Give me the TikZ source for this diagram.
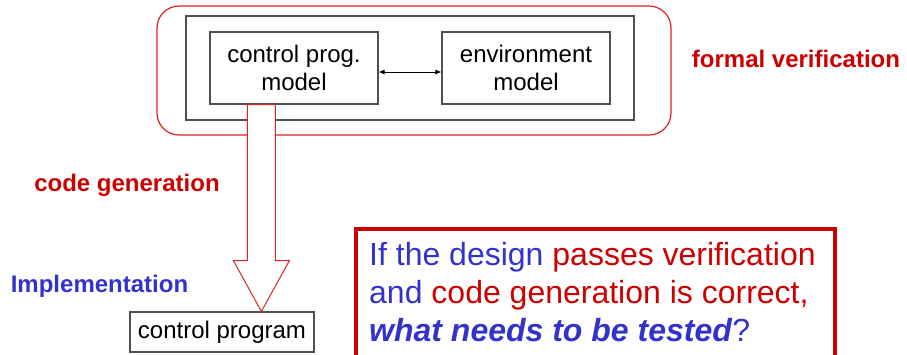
\documentclass[tikz,border=0pt]{standalone}
\usepackage{fontspec}
\setmainfont{Liberation Sans}
\usetikzlibrary{arrows.meta,calc}
\definecolor{dred}{HTML}{CC0000}
\definecolor{lred}{HTML}{DD2222}
\definecolor{dblue}{HTML}{3333CC}
\definecolor{boxgray}{HTML}{505050}
\begin{document}
\begin{tikzpicture}[x=1pt,y=-1pt,
  modelbox/.style={draw=boxgray,line width=1.2pt,fill=white,minimum width=168pt,minimum height=72pt,
    align=center,inner sep=0pt,font=\fontsize{24}{28}\selectfont},
  tag/.style={font=\fontsize{24}{28}\selectfont\bfseries,inner sep=0pt,anchor=base},
  qline/.style={font=\fontsize{32}{38}\selectfont,inner sep=0pt,anchor=base west,text=dblue}]
\useasboundingbox (0,0) rectangle (907,354);

% verification frame and the model container
\draw[lred,line width=1.2pt,rounded corners=22pt] (157,6) rectangle (671,135);
\node[draw=boxgray,line width=1.2pt,minimum width=448pt,minimum height=104pt,inner sep=0pt] (sys) at (410,68) {};

% the two models
\node[modelbox] (cpm) at (294,68) {control prog.\\model};
\node[modelbox] (env) at (526,68) {environment\\model};
\draw[{Latex[length=6pt,width=5pt]}-{Latex[length=6pt,width=5pt]},line width=0.8pt]
  ([yshift=-4pt]cpm.east) -- ([yshift=-4pt]env.west);

% generated program
\node[draw=boxgray,line width=1.2pt,minimum width=184pt,minimum height=40pt,inner sep=0pt,
  font=\fontsize{24}{28}\selectfont] (cp) at (222,332) {control program};

% code generation arrow, from the control model down to the program
\coordinate (gtop) at ($(cpm.south west)+(38,0)$);
\coordinate (gtip) at ($(cp.north west)+(132,0)$);
\draw[lred,line width=1pt,fill=white]
  ($(gtop)$) -- ($(gtop)+(28,0)$) -- ($(gtop)+(28,156)$) -- ($(gtop)+(42,156)$)
  -- (gtip) -- ($(gtop)+(-14,156)$) -- ($(gtop)+(0,156)$) -- cycle;

% labels
\node[tag,text=dred] (fv) at (796,67) {formal verification};
\node[tag,text=dred] (cg) at (127,191) {code generation};
\node[tag,text=dblue] (impl) at (99.5,292) {Implementation};

% question box
\draw[dred,line width=4pt] (356,229) rectangle (835,362);
\node[qline] (q1) at (369,265) {If the design \textcolor{dred}{passes verification}};
\node[qline] (q2) at (369,303) {and \textcolor{dred}{code generation is correct,}};
\node[qline] (q3) at (369,341) {\textbf{\textit{what needs to be tested}}?};
\end{tikzpicture}
\end{document}
